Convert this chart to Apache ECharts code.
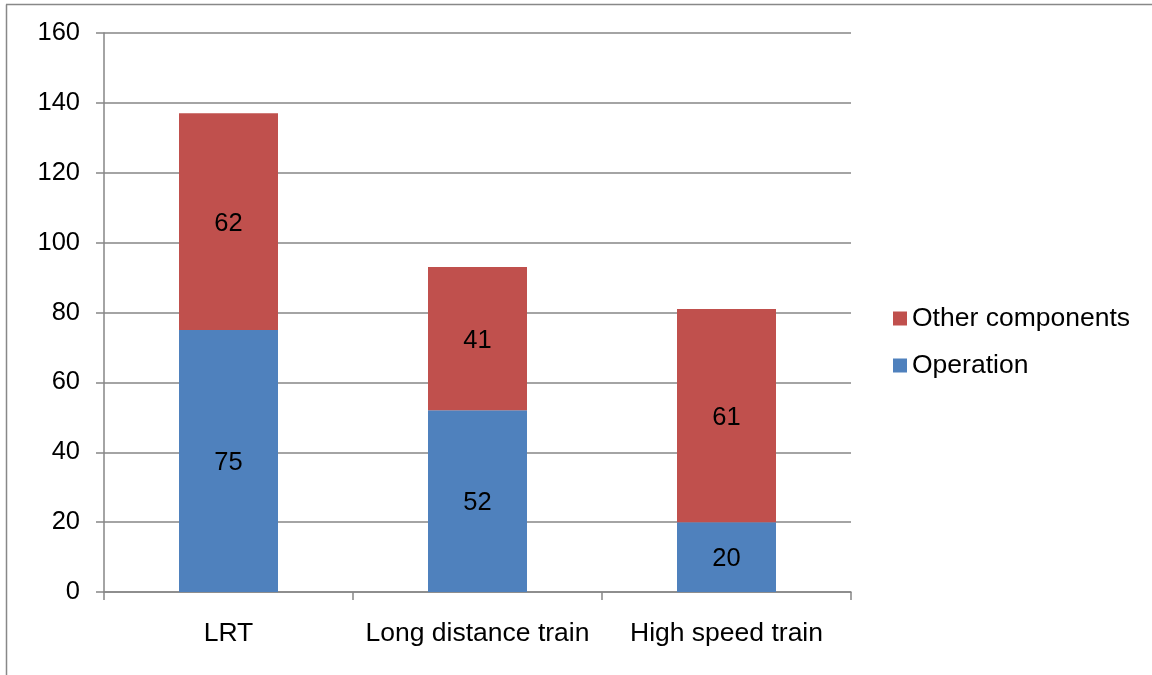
<!DOCTYPE html>
<html>
<head>
<meta charset="utf-8">
<script src="https://cdn.jsdelivr.net/npm/echarts@6/dist/echarts.min.js"></script>
<style>
  html, body { margin: 0; padding: 0; background: #fff; }
  #chart { width: 1152px; height: 675px; }
</style>
</head>
<body>
<div id="chart"></div>
<script>
// Transport modes and their stacked components
const categories = ['LRT', 'Long distance train', 'High speed train'];
const operation = [75, 52, 20];
const otherComponents = [62, 41, 61];
const yTicks = { min: 0, max: 160, interval: 20 };

const FONT = '"Liberation Sans", Arial, sans-serif';
const NUM_SIZE = 25.5;
const TEXT_SIZE = 26.5;
const GRID_COLOR = '#868686';

const chart = echarts.init(document.getElementById('chart'), null, { renderer: 'canvas' });

const labelStyle = {
  show: true,
  position: 'inside',
  offset: [0, 2],
  color: '#000',
  fontFamily: FONT,
  fontSize: NUM_SIZE
};

chart.setOption({
  animation: false,
  backgroundColor: '#fff',
  textStyle: { fontFamily: FONT },
  graphic: [
    // outer chart frame (left and top edges)
    { type: 'line', shape: { x1: 6.5, y1: 4.5, x2: 6.5, y2: 675 }, style: { stroke: '#888', lineWidth: 1.5 }, silent: true },
    { type: 'line', shape: { x1: 6, y1: 4.5, x2: 1152, y2: 4.5 }, style: { stroke: '#888', lineWidth: 1.5 }, silent: true }
  ],
  grid: { left: 104, right: 301, top: 33, bottom: 83, containLabel: false },
  legend: {
    data: ['Other components', 'Operation'],
    orient: 'vertical',
    left: 888,
    top: 300,
    itemWidth: 14,
    itemHeight: 14,
    itemGap: 20,
    icon: 'rect',
    textStyle: { fontFamily: FONT, fontSize: TEXT_SIZE, color: '#000' }
  },
  xAxis: {
    type: 'category',
    data: categories,
    axisLine: { lineStyle: { color: GRID_COLOR, width: 1.5 } },
    axisTick: { show: true, length: 8, lineStyle: { color: GRID_COLOR, width: 1.5 } },
    axisLabel: { interval: 0, color: '#000', fontFamily: FONT, fontSize: TEXT_SIZE, margin: 28 }
  },
  yAxis: {
    type: 'value',
    min: yTicks.min,
    max: yTicks.max,
    interval: yTicks.interval,
    axisLine: { show: true, lineStyle: { color: GRID_COLOR, width: 1.5 } },
    axisTick: { show: true, length: 8, lineStyle: { color: GRID_COLOR, width: 1.5 } },
    splitLine: { show: true, lineStyle: { color: GRID_COLOR, width: 1.5 } },
    axisLabel: { color: '#000', fontFamily: FONT, fontSize: NUM_SIZE, margin: 24 }
  },
  series: [
    {
      name: 'Operation',
      type: 'bar',
      stack: 'total',
      data: operation,
      barWidth: 99,
      itemStyle: { color: '#4F81BD' },
      label: labelStyle
    },
    {
      name: 'Other components',
      type: 'bar',
      stack: 'total',
      data: otherComponents,
      barWidth: 99,
      itemStyle: { color: '#C0504D' },
      label: labelStyle
    }
  ]
});
</script>
</body>
</html>
